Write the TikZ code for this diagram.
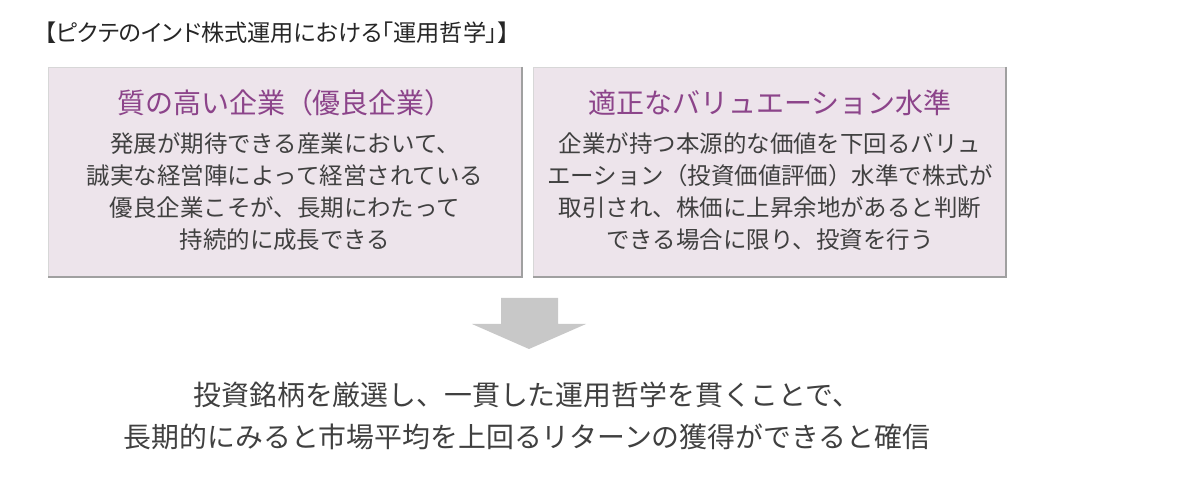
\documentclass[tikz,border=0pt]{standalone}
\usepackage{fontspec}
\newfontfamily\jp{Noto Sans CJK JP}
\newfontfamily\jpp[RawFeature=+palt]{Noto Sans CJK JP}
\definecolor{boxfill}{RGB}{237,228,235}
\definecolor{boxline}{RGB}{215,215,215}
\definecolor{boxshade}{RGB}{160,160,160}
\definecolor{titlepurple}{RGB}{140,68,138}
\definecolor{bodygray}{RGB}{64,64,64}
\definecolor{arrowgray}{RGB}{200,200,200}
\begin{document}
\begin{tikzpicture}[x=0.75pt,y=-0.75pt,
  panel/.style={fill=boxfill,draw=boxline,line width=0.6pt},
  paneltitle/.style={font=\jp\fontsize{21}{24}\selectfont,text=titlepurple,inner sep=0pt,anchor=center},
  panelbody/.style={font=\jp\fontsize{17.6}{24}\selectfont,text=bodygray,align=center,inner sep=0pt,anchor=center},
  headline/.style={font=\jpp\fontsize{17.4}{19}\selectfont,text=black!85,inner sep=0pt,anchor=west},
  conclusion/.style={font=\jp\fontsize{20.9}{31.5}\selectfont,text=bodygray,align=center,inner sep=0pt,anchor=center}]
\useasboundingbox[fill=white] (0,0) rectangle (1200,477);
% heading
\node[headline] (head) at (44,33) {【ピクテのインド株式運用における「運用哲学」】};
% panels
\path[panel] (48,67) rectangle (522,277);
\draw[boxshade,line width=0.9pt] (522,67) -- (522,277) -- (48,277);
\path[panel] (533,67) rectangle (1006,277);
\draw[boxshade,line width=0.9pt] (1006,67) -- (1006,277) -- (533,277);
\node[paneltitle] (lt) at (285,103) {質の高い企業（優良企業）};
\node[panelbody] (lb) at (285,192) {発展が期待できる産業において、\\誠実な経営陣によって経営されている\\優良企業こそが、長期にわたって\\持続的に成長できる};
\node[paneltitle] (rt) at (770,103) {適正なバリュエーション水準};
\node[panelbody] (rb) at (770,192) {企業が持つ本源的な価値を下回るバリュ\\エーション（投資価値評価）水準で株式が\\取引され、株価に上昇余地があると判断\\できる場合に限り、投資を行う};
% block arrow
\fill[arrowgray] (501,298) -- (558,298) -- (558,324) -- (586,324) -- (529,349) -- (472,324) -- (501,324) -- cycle;
% conclusion
\node[conclusion] (concl) at (527,416) {投資銘柄を厳選し、一貫した運用哲学を貫くことで、\\長期的にみると市場平均を上回るリターンの獲得ができると確信};
\end{tikzpicture}
\end{document}
